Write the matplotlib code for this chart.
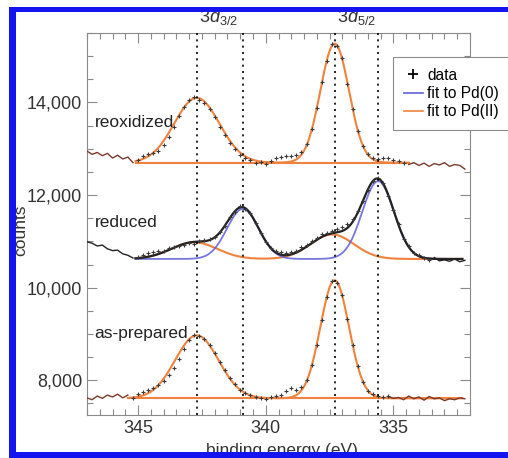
#!/usr/bin/env python3
"""Pd 3d XPS spectra: as-prepared, reduced and reoxidized, with peak fits."""

import numpy as np
import matplotlib
matplotlib.use("Agg")
import matplotlib.pyplot as plt
from matplotlib.lines import Line2D
from matplotlib.patches import Rectangle
from matplotlib.ticker import MultipleLocator, FuncFormatter

plt.rcParams["font.family"] = ["Liberation Sans", "DejaVu Sans"]
plt.rcParams["mathtext.fontset"] = "custom"
plt.rcParams["mathtext.rm"] = "Liberation Sans"
plt.rcParams["mathtext.it"] = "Liberation Sans:italic"

# binding energy sampling of the measured spectra (eV)
energy = np.linspace(347.0, 332.2, 75)

reoxidized = [
    12950, 12880, 12920, 12850, 12900, 12800, 12860, 12780, 12820, 12700,
    12760, 12850, 12880, 12900, 12960, 13080, 13250, 13470, 13700, 13900,
    14050, 14110, 14060, 13990, 13850, 13680, 13480, 13300, 13120, 13000,
    12870, 12790, 12760, 12700, 12720, 12680, 12740, 12790, 12830, 12850,
    12840, 12870, 12930, 13100, 13420, 13880, 14440, 14900, 15260, 15220,
    14950, 14400, 13860, 13380, 13050, 12880, 12800, 12780, 12790, 12800,
    12760, 12740, 12700, 12660, 12700, 12640, 12690, 12620, 12680, 12650,
    12700, 12620, 12660, 12640, 12560,
]
reduced = [
    10990, 10960, 10900, 10920, 10840, 10800, 10810, 10730, 10700, 10640,
    10660, 10700, 10740, 10760, 10790, 10800, 10850, 10880, 10900, 10930,
    10960, 10940, 11010, 11030, 11060, 11100, 11200, 11330, 11520, 11640,
    11760, 11700, 11610, 11390, 11180, 10990, 10860, 10790, 10760, 10740,
    10770, 10800, 10880, 10920, 11000, 11080, 11150, 11190, 11230, 11260,
    11300, 11380, 11480, 11650, 11880, 12110, 12300, 12370, 12260, 11990,
    11670, 11370, 11060, 10890, 10740, 10700, 10640, 10600, 10650, 10580,
    10600, 10570, 10620, 10560, 10590,
]
as_prepared = [
    7620, 7580, 7660, 7610, 7680, 7640, 7700, 7620, 7680, 7620,
    7700, 7740, 7790, 7840, 7900, 7990, 8110, 8270, 8460, 8680,
    8860, 8980, 8950, 8900, 8770, 8590, 8400, 8220, 8050, 7920,
    7800, 7730, 7680, 7640, 7610, 7600, 7630, 7650, 7680, 7760,
    7830, 7800, 7850, 8000, 8320, 8760, 9300, 9800, 10140, 10090,
    9850, 9330, 8770, 8300, 7960, 7770, 7700, 7660, 7640, 7650,
    7610, 7630, 7580, 7660, 7600, 7640, 7570, 7650, 7600, 7620,
    7560, 7600, 7580, 7620, 7600,
]

# Gaussian fit parameters
reox_bg = 12700
reox_centers = [342.7, 337.3]
reox_heights = [1400, 2570]
reox_widths = [0.88, 0.56]

red_bg = 10620
red_pd0_centers = [340.9, 335.6]
red_pd0_heights = [1080, 1680]
red_pd0_widths = [0.62, 0.62]
red_pd2_centers = [342.8, 337.4]
red_pd2_heights = [360, 530]
red_pd2_widths = [0.9, 0.85]

prep_bg = 7610
prep_centers = [342.7, 337.3]
prep_heights = [1360, 2550]
prep_widths = [0.85, 0.56]

# fit windows and the range drawn as a plain line (outside the fit)
reox_window = (345.1, 334.4)
red_window = (345.1, 332.3)
prep_window = (345.4, 332.3)
reox_wings = (345.1, 334.5)
red_wings = (345.1, 333.5)
prep_wings = (345.3, 335.2)

peak_lines = [342.7, 340.9, 337.3, 335.6]
labels = ["reoxidized", "reduced", "as-prepared"]
label_y = [13570, 11410, 9010]

BLUE = "#5f5fd8"
ORANGE = "#f0823e"
DARK = "#3a3a3a"
GRAY = "#8a8a8a"


def gauss(x, centers, heights, widths):
    y = np.zeros_like(x)
    for c, h, w in zip(centers, heights, widths):
        y += h * np.exp(-((x - c) ** 2) / (2 * w ** 2))
    return y


def draw_data(ax, y, wings, line_color):
    y = np.asarray(y, dtype=float)
    inside = (energy <= wings[0] + 1e-9) & (energy >= wings[1] - 1e-9)
    left = energy >= wings[0] - 1e-9
    right = energy <= wings[1] + 1e-9
    ax.plot(energy[left], y[left], color=line_color, lw=1.0, zorder=4)
    ax.plot(energy[right], y[right], color=line_color, lw=1.0, zorder=4)
    ax.plot(energy[inside], y[inside], ls="none", marker="+", ms=3.2,
            mew=0.8, color=DARK, zorder=5)


def main():
    fig = plt.figure(figsize=(5.08, 4.58), dpi=100)
    ax = fig.add_axes([87 / 508, 1 - 415 / 458, 383 / 508, 382 / 458])

    # reoxidized
    xf = np.linspace(*reox_window, 400)
    ax.plot(xf, np.full_like(xf, reox_bg), color=ORANGE, lw=1.5, zorder=3)
    ax.plot(xf, reox_bg + gauss(xf, reox_centers, reox_heights, reox_widths),
            color=ORANGE, lw=1.5, zorder=3)
    draw_data(ax, reoxidized, reox_wings, "#7a3a2c")

    # reduced
    xf = np.linspace(*red_window, 400)
    pd2 = red_bg + gauss(xf, red_pd2_centers, red_pd2_heights, red_pd2_widths)
    pd0 = red_bg + gauss(xf, red_pd0_centers, red_pd0_heights, red_pd0_widths)
    ax.plot(xf, pd2, color=ORANGE, lw=1.5, zorder=2)
    ax.plot(xf, pd0, color=BLUE, lw=1.3, alpha=0.85, zorder=2.5)
    ax.plot(xf, pd0 + pd2 - red_bg, color="#222222", lw=1.6, zorder=3)
    draw_data(ax, reduced, red_wings, "#222222")

    # as-prepared
    xf = np.linspace(*prep_window, 400)
    ax.plot(xf, np.full_like(xf, prep_bg), color=ORANGE, lw=1.5, zorder=3)
    ax.plot(xf, prep_bg + gauss(xf, prep_centers, prep_heights, prep_widths),
            color=ORANGE, lw=1.5, zorder=3)
    draw_data(ax, as_prepared, prep_wings, "#7a3a2c")

    for e in peak_lines:
        ax.axvline(e, color="black", lw=1.2, ls=(0, (1.2, 2.6)), zorder=6)

    for text, y in zip(labels, label_y):
        ax.text(346.7, y, text, fontsize=12.5, color="#222222",
                va="center", ha="left", zorder=7)

    ax.text(341.85, 15620, r"$3d_{3/2}$", fontsize=13, ha="center",
            va="bottom", color="#333333")
    ax.text(336.45, 15620, r"$3d_{5/2}$", fontsize=13, ha="center",
            va="bottom", color="#333333")

    ax.set_xlim(347, 332)
    ax.set_ylim(7250, 15500)
    ax.xaxis.set_major_locator(MultipleLocator(5))
    ax.xaxis.set_minor_locator(MultipleLocator(0.5))
    ax.yaxis.set_major_locator(MultipleLocator(2000))
    ax.yaxis.set_minor_locator(MultipleLocator(500))
    ax.yaxis.set_major_formatter(FuncFormatter(lambda v, p: f"{int(v):,}"))
    ax.tick_params(which="both", direction="in", top=True, right=True,
                   colors=GRAY, labelcolor="#333333", labelsize=13)
    ax.tick_params(which="major", length=7, width=0.8)
    ax.tick_params(which="minor", length=4, width=0.8)
    for s in ax.spines.values():
        s.set_color(GRAY)
        s.set_linewidth(0.8)

    handles = [
        Line2D([], [], ls="none", marker="+", ms=7, mew=1.3, color="black"),
        Line2D([], [], color=BLUE, lw=1.2),
        Line2D([], [], color=ORANGE, lw=1.2),
    ]
    leg = ax.legend(handles, ["data", "fit to Pd(0)", "fit to Pd(II)"],
                    loc="upper left", bbox_to_anchor=(393 / 508, 1 - 57 / 458),
                    bbox_transform=fig.transFigure, borderaxespad=0,
                    fontsize=11.2, handlelength=1.2, handletextpad=0.3,
                    labelspacing=0.2, borderpad=0.7, fancybox=False,
                    framealpha=1)
    leg.get_frame().set_edgecolor(GRAY)
    leg.get_frame().set_linewidth(0.8)
    leg.set_zorder(10)

    fig.text(21 / 508, 1 - 230 / 458, "counts", rotation=90, fontsize=12.5,
             ha="center", va="center", color="#333333")
    fig.text(282 / 508, 1 - 451 / 458, "binding energy (eV)", fontsize=12.5,
             ha="center", va="center", color="#333333")

    # blue frame of the original screenshot
    for x, y, w, h in [(9, 7, 7, 451), (9, 7, 499, 5), (9, 452, 499, 6)]:
        fig.add_artist(Rectangle((x / 508, 1 - (y + h) / 458), w / 508, h / 458,
                                 transform=fig.transFigure, color="#1414f0",
                                 zorder=20, lw=0))

    fig.savefig("out.png", dpi=100, facecolor="white")
    plt.close(fig)


if __name__ == "__main__":
    main()
